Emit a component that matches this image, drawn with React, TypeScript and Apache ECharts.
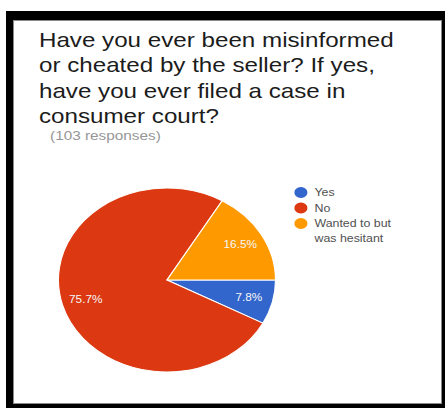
import React, { useEffect, useRef } from "react";
import * as echarts from "echarts";

const titleLines = [
  "Have you ever been misinformed",
  "or cheated by the seller? If yes,",
  "have you ever filed a case in",
  "consumer court?",
];
const subtitleText = "(103 responses)";
const categories = ["Yes", "No", "Wanted to but\nwas hesitant"];
const counts = [8, 78, 17];
const colors = ["#3366cc", "#dc3912", "#ff9900"];

const SX = 1.18;
const W = 445;
const H = 408;

export default function App() {
  const ref = useRef<HTMLDivElement>(null);
  useEffect(() => {
    if (!ref.current) return;
    const chart = echarts.init(ref.current, undefined, { renderer: "svg" });
    const data = categories.map((name, i) => ({ name, value: counts[i] }));
    const legendFont = {
      fontFamily: "Liberation Sans",
      fontSize: 10.5,
      color: "#505050",
      lineHeight: 15,
    };
    chart.setOption({
      animation: false,
      backgroundColor: "transparent",
      color: colors,
      title: [
        {
          text: titleLines.join("\n"),
          left: 33,
          top: 27,
          padding: 0,
          textStyle: {
            fontFamily: "Liberation Sans",
            fontSize: 20.5,
            fontWeight: "normal",
            color: "#1c1c1c",
            lineHeight: 25.5,
          },
        },
        {
          text: subtitleText,
          left: 42.4,
          top: 128.5,
          padding: 0,
          textStyle: {
            fontFamily: "Liberation Sans",
            fontSize: 13,
            fontWeight: "normal",
            color: "#969696",
          },
        },
      ],
      legend: {
        orient: "vertical",
        left: 247.5,
        top: 185,
        padding: 0,
        icon: "circle",
        itemWidth: 13,
        itemHeight: 13,
        itemGap: 0.5,
        selectedMode: false,
        formatter: (name: string) =>
          name
            .split("\n")
            .map((line) => "{t|" + line + "}")
            .join("\n"),
        textStyle: {
          ...legendFont,
          rich: { t: { ...legendFont } },
        },
        data: categories.map((name, i) =>
          i === 2
            ? { name, textStyle: { padding: [0, 0, -15, 0] } }
            : { name }
        ),
      },
      series: [
        {
          type: "pie",
          center: [141.5, 280],
          radius: [0, 92],
          startAngle: 0,
          clockwise: true,
          percentPrecision: 1,
          label: { show: false },
          labelLine: { show: false },
          itemStyle: { borderColor: "#ffffff", borderWidth: 1 },
          emphasis: { disabled: true },
          data,
        },
        {
          type: "pie",
          center: [141.5, 280],
          radius: [45, 92],
          startAngle: 0,
          clockwise: true,
          silent: true,
          percentPrecision: 1,
          itemStyle: { color: "transparent", borderWidth: 0 },
          labelLine: { show: false },
          label: {
            show: true,
            position: "inside",
            formatter: "{d}%",
            color: "#f6f6f6",
            fontFamily: "Liberation Sans",
            fontSize: 10,
          },
          emphasis: { disabled: true },
          data,
        },
      ],
    });
    return () => chart.dispose();
  }, []);

  return (
    <div
      style={{
        position: "fixed",
        left: 0,
        top: 0,
        width: W,
        height: H,
        background: "#ffffff",
        overflow: "hidden",
      }}
    >
      <div
        style={{
          position: "absolute",
          left: 6,
          top: 11,
          width: W,
          height: H,
          background: "#000000",
        }}
      />
      <div
        style={{
          position: "absolute",
          left: 13,
          top: 20,
          width: 429,
          height: 384,
          background: "#ffffff",
          boxSizing: "border-box",
          border: "1px solid #8a8a8a",
        }}
      />
      <div
        ref={ref}
        style={{
          position: "absolute",
          left: 0,
          top: 0,
          width: W / SX,
          height: H,
          transform: `scaleX(${SX})`,
          transformOrigin: "0 0",
        }}
      />
    </div>
  );
}
